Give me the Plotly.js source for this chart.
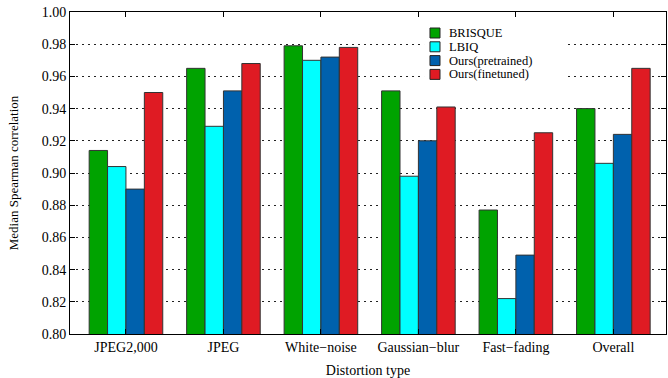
<!DOCTYPE html>
<html>
<head>
<meta charset="utf-8">
<script src="https://cdn.plot.ly/plotly-3.0.1.min.js"></script>
<style>html,body{margin:0;padding:0;background:#fff;}#chart{width:668px;height:378px;}</style>
</head>
<body>
<div id="chart"></div>
<script>
// ---- data ----
var categories = ["JPEG2,000", "JPEG", "White\u2212noise", "Gaussian\u2212blur", "Fast\u2212fading", "Overall"];
var seriesNames = ["BRISQUE", "LBIQ", "Ours(pretrained)", "Ours(finetuned)"];
var brisque    = [0.914, 0.965, 0.979, 0.951, 0.877, 0.940];
var lbiq       = [0.904, 0.929, 0.970, 0.898, 0.822, 0.906];
var pretrained = [0.890, 0.951, 0.972, 0.920, 0.849, 0.924];
var finetuned  = [0.950, 0.968, 0.978, 0.941, 0.925, 0.965];
var yTickVals  = [0.80, 0.82, 0.84, 0.86, 0.88, 0.90, 0.92, 0.94, 0.96, 0.98, 1.00];

// ---- styles ----
var colors = ["#00a300", "#00ffff", "#0061ad", "#df1b23"];
var FONT = "Liberation Serif, Times New Roman, serif";

var seriesValues = [brisque, lbiq, pretrained, finetuned];
var traces = seriesValues.map(function (vals, i) {
  return {
    type: "bar",
    name: seriesNames[i],
    x: categories,
    y: vals,
    marker: {color: colors[i], line: {color: "#333333", width: 1}},
    showlegend: false,
    hoverinfo: "x+y+name"
  };
});

// manual compact legend (paper coordinates)
var shapes = [{
  type: "rect", xref: "paper", yref: "paper",
  x0: 0.594, x1: 0.834, y0: 0.7826, y1: 0.9814,
  fillcolor: "#ffffff", line: {width: 0}, layer: "above"
}];
var annotations = [];
var rowY0 = 0.9348, rowStep = 0.04286, half = 0.0155;
seriesNames.forEach(function (nm, i) {
  var yc = rowY0 - i * rowStep;
  shapes.push({
    type: "rect", xref: "paper", yref: "paper",
    x0: 0.604, x1: 0.6208, y0: yc - half, y1: yc + half,
    fillcolor: colors[i], line: {color: "#222222", width: 1}, layer: "above"
  });
  annotations.push({
    xref: "paper", yref: "paper", x: 0.6342, y: yc,
    xanchor: "left", yanchor: "middle", showarrow: false, borderpad: 0,
    text: nm, font: {family: FONT, size: 12.5, color: "#000"}
  });
});

var layout = {
  width: 668, height: 378,
  margin: {l: 70, r: 2, t: 12, b: 44, pad: 0},
  paper_bgcolor: "#ffffff", plot_bgcolor: "#ffffff",
  font: {family: FONT, size: 14, color: "#000"},
  barmode: "group", bargap: 0.245, bargroupgap: 0,
  xaxis: {
    type: "category",
    range: [-0.574, 5.54],
    showline: true, linecolor: "#000", linewidth: 1, mirror: "ticks",
    ticks: "inside", ticklen: 5, tickcolor: "#000",
    showgrid: false, zeroline: false,
    tickfont: {family: FONT, size: 14, color: "#000"},
    title: {text: "Distortion type", font: {family: FONT, size: 14, color: "#000"}, standoff: 11}
  },
  yaxis: {
    range: [0.8, 1.0],
    tickvals: yTickVals, tickformat: ".2f",
    showline: true, linecolor: "#000", linewidth: 1, mirror: "ticks",
    ticks: "inside", ticklen: 5, tickcolor: "#000",
    showgrid: true, gridcolor: "#222222", gridwidth: 1, griddash: "2px,4px",
    zeroline: false,
    tickfont: {family: FONT, size: 14, color: "#000"},
    title: {text: "Median Spearman correlation", font: {family: FONT, size: 13, color: "#000"}, standoff: 20}
  },
  shapes: shapes,
  annotations: annotations
};

Plotly.newPlot("chart", traces, layout, {displayModeBar: false, staticPlot: true});
</script>
</body>
</html>
